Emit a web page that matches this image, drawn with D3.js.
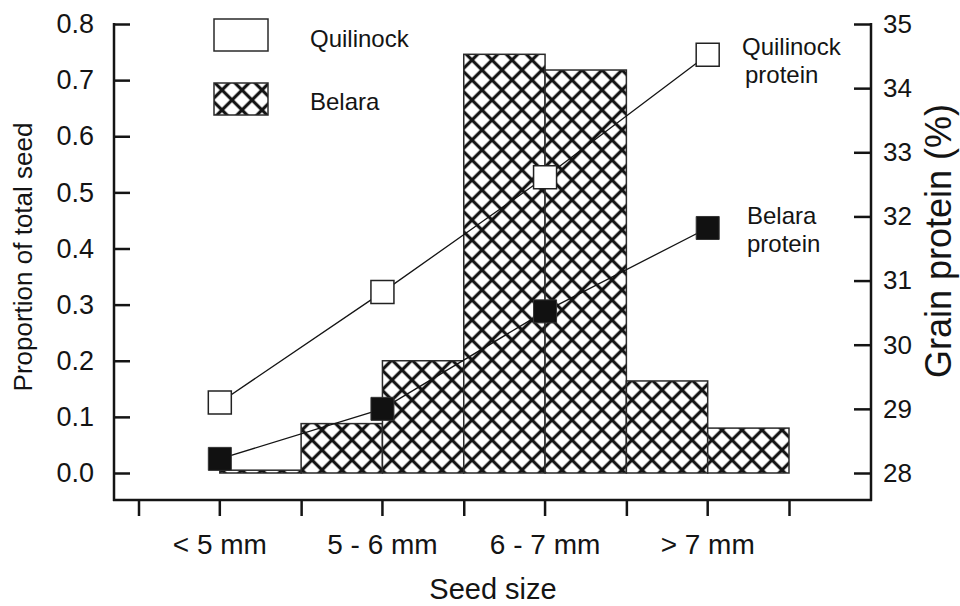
<!DOCTYPE html>
<html>
<head>
<meta charset="utf-8">
<script src="https://cdn.jsdelivr.net/npm/d3@7/dist/d3.min.js"></script>
<style>
  html, body { margin: 0; padding: 0; background: #fff; }
  svg { display: block; font-family: "Liberation Sans", Arial, sans-serif; }
  text { fill: #141414; }
</style>
</head>
<body>
<svg id="chart" width="960" height="606"></svg>
<script>
// Seed size classes
const categories = ["< 5 mm", "5 - 6 mm", "6 - 7 mm", "> 7 mm"];
// Proportion of total seed in each size class
const quilinockShare = [0, 0.088, 0.746, 0.164];
const belaraShare = [0.005, 0.2, 0.718, 0.08];
// Grain protein (%) in each size class
const quilinockProtein = [29.1, 30.82, 32.61, 34.52];
const belaraProtein = [28.22, 29.0, 30.52, 31.82];
// Axis ticks
const shareTicks = [0, 0.1, 0.2, 0.3, 0.4, 0.5, 0.6, 0.7, 0.8];
const proteinTicks = [28, 29, 30, 31, 32, 33, 34, 35];

const svg = d3.select("#chart");
const ink = "#141414";

const x = d3.scaleBand().domain(categories).range([138.5, 789]).padding(0);
const bw = x.bandwidth();
const yShare = d3.scaleLinear().domain([0, 0.8]).range([473, 24]);
const yProt = d3.scaleLinear().domain([28, 35]).range([473, 24]);

// Cross-hatch fill
const defs = svg.append("defs");
const step = 14.142;
const pat = defs.append("pattern")
  .attr("id", "hatch")
  .attr("patternUnits", "userSpaceOnUse")
  .attr("width", step).attr("height", step)
  .attr("patternTransform", "translate(2,0) rotate(45)");
pat.append("rect").attr("width", step).attr("height", step).attr("fill", "#fff");
pat.append("rect").attr("x", 0).attr("y", step / 2 - 1.6).attr("width", step).attr("height", 3.2).attr("fill", ink);
pat.append("rect").attr("x", step / 2 - 1.6).attr("y", 0).attr("width", 3.2).attr("height", step).attr("fill", ink);

// Bars: two half-width bars per size class
const bars = [];
categories.forEach((c, i) => {
  bars.push({ x0: x(c), v: quilinockShare[i] });
  bars.push({ x0: x(c) + bw / 2, v: belaraShare[i] });
});
svg.append("g").selectAll("rect").data(bars).join("rect")
  .attr("x", d => d.x0)
  .attr("y", d => yShare(d.v))
  .attr("width", bw / 2)
  .attr("height", d => yShare(0) - yShare(d.v))
  .attr("fill", "url(#hatch)")
  .attr("stroke", "#2a2a2a")
  .attr("stroke-width", 1.5);

// Protein lines
const line = d3.line()
  .x((d, i) => x(categories[i]) + bw / 2)
  .y(d => yProt(d));
svg.append("path").datum(quilinockProtein).attr("d", line)
  .attr("fill", "none").attr("stroke", ink).attr("stroke-width", 1.3);
svg.append("path").datum(belaraProtein).attr("d", line)
  .attr("fill", "none").attr("stroke", ink).attr("stroke-width", 1.3);

// Protein markers
const sq = d3.symbol().type(d3.symbolSquare).size(23 * 23);
svg.append("g").selectAll("path").data(quilinockProtein).join("path")
  .attr("d", sq)
  .attr("transform", (d, i) => `translate(${x(categories[i]) + bw / 2},${yProt(d)})`)
  .attr("fill", "#fff").attr("stroke", "#222").attr("stroke-width", 1.5);
svg.append("g").selectAll("path").data(belaraProtein).join("path")
  .attr("d", sq)
  .attr("transform", (d, i) => `translate(${x(categories[i]) + bw / 2},${yProt(d)})`)
  .attr("fill", "#111").attr("stroke", "#333").attr("stroke-width", 1);

// Frame lines
const frame = svg.append("g").attr("stroke", ink).attr("stroke-width", 2.5);
frame.append("line").attr("x1", 114).attr("x2", 114).attr("y1", yShare(0.8) - 1).attr("y2", 501);
frame.append("line").attr("x1", 871).attr("x2", 871).attr("y1", yProt(35) - 1).attr("y2", 501);
frame.append("line").attr("x1", 113).attr("x2", 872).attr("y1", 500).attr("y2", 500);

function styleAxis(g, size) {
  g.select(".domain").remove();
  g.selectAll(".tick line").attr("stroke", ink).attr("stroke-width", 2.5);
  g.selectAll(".tick text")
    .attr("fill", ink)
    .style("font-size", size + "px")
    .style("font-family", '"Liberation Sans", Arial, sans-serif');
}

// Left axis: ticks point inward
svg.append("g").attr("transform", "translate(114,0)")
  .call(d3.axisLeft(yShare).tickValues(shareTicks).tickFormat(d3.format(".1f"))
    .tickSizeInner(-16).tickSizeOuter(0).tickPadding(20))
  .call(g => styleAxis(g, 27));

// Right axis: ticks point inward
svg.append("g").attr("transform", "translate(871,0)")
  .call(d3.axisRight(yProt).tickValues(proteinTicks).tickFormat(d3.format("d"))
    .tickSizeInner(-17).tickSizeOuter(0).tickPadding(12))
  .call(g => styleAxis(g, 26));

// Bottom axis: category labels with ticks at centres
svg.append("g").attr("transform", "translate(0,500)")
  .call(d3.axisBottom(x).tickSizeInner(16).tickSizeOuter(0).tickPadding(18))
  .call(g => styleAxis(g, 28));

// Bottom axis: ticks at class boundaries
const xEdge = d3.scaleLinear().domain([0, categories.length]).range(x.range());
svg.append("g").attr("transform", "translate(0,500)")
  .call(d3.axisBottom(xEdge).tickValues(d3.range(categories.length + 1)).tickFormat("")
    .tickSizeInner(16).tickSizeOuter(0))
  .call(g => styleAxis(g, 28));

// Axis titles
svg.append("text")
  .attr("transform", "translate(32,257) rotate(-90)")
  .attr("text-anchor", "middle")
  .style("font-size", "26px")
  .text("Proportion of total seed");
svg.append("text")
  .attr("transform", "translate(951,241) rotate(-90)")
  .attr("text-anchor", "middle")
  .style("font-size", "36px")
  .text("Grain protein (%)");
svg.append("text")
  .attr("x", 493).attr("y", 599)
  .attr("text-anchor", "middle")
  .style("font-size", "29px")
  .text("Seed size");

// Legend
const legend = svg.append("g");
legend.append("rect").attr("x", 214).attr("y", 19).attr("width", 54).attr("height", 32)
  .attr("fill", "#fff").attr("stroke", "#2a2a2a").attr("stroke-width", 1.5);
legend.append("rect").attr("x", 214).attr("y", 83).attr("width", 54).attr("height", 32)
  .attr("fill", "url(#hatch)").attr("stroke", "#2a2a2a").attr("stroke-width", 1.5);
legend.append("text").attr("x", 310).attr("y", 47).style("font-size", "24px").text("Quilinock");
legend.append("text").attr("x", 310).attr("y", 110).style("font-size", "24px").text("Belara");

// Series labels beside the last markers
const note = svg.append("g").style("font-size", "24px");
note.append("text").attr("x", 742).attr("y", 55).text("Quilinock");
note.append("text").attr("x", 745).attr("y", 83).text("protein");
note.append("text").attr("x", 747).attr("y", 224).text("Belara");
note.append("text").attr("x", 747).attr("y", 252).text("protein");
</script>
</body>
</html>
